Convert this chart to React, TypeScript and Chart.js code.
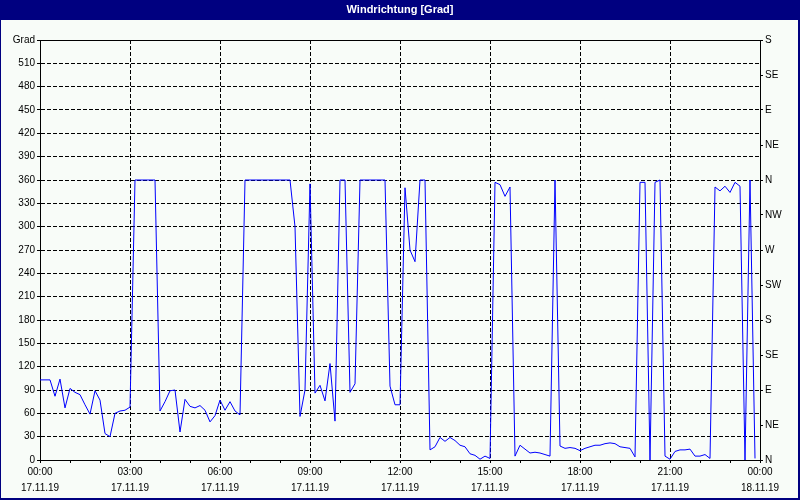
import React, { useEffect, useRef } from 'react';
import { Chart, registerables } from 'chart.js';

Chart.register(...registerables);

// Sample times in minutes after 17.11.19 00:00 (10-minute readings)
const minutes = [
  0, 10, 20, 30, 40, 50, 60, 70, 80, 90,
  100, 110, 120, 130, 140, 150, 160, 170, 180, 190,
  200, 210, 220, 230, 240, 250, 260, 270, 280, 290,
  300, 310, 320, 330, 340, 350, 360, 370, 380, 390,
  400, 410, 420, 430, 440, 450, 460, 470, 480, 490,
  500, 510, 520, 530, 540, 550, 560, 570, 580, 590,
  600, 610, 620, 630, 640, 650, 660, 670, 680, 690,
  700, 710, 720, 730, 740, 750, 760, 770, 780, 790,
  800, 810, 820, 830, 840, 850, 860, 870, 880, 890,
  900, 910, 920, 930, 940, 950, 960, 970, 980, 990,
  1000, 1010, 1020, 1030, 1040, 1050, 1060, 1070, 1080, 1090,
  1100, 1110, 1120, 1130, 1140, 1150, 1160, 1170, 1180, 1190,
  1200, 1210, 1220, 1230, 1240, 1250, 1260, 1270, 1280, 1290,
  1300, 1310, 1320, 1330, 1340, 1350, 1360, 1370, 1380, 1390,
  1400, 1410, 1420, 1430,
];

// Wind direction in degrees
const direction = [
  103, 103, 103, 82, 104, 67, 92, 87, 84, 71,
  59, 89, 77, 34, 30, 60, 63, 64, 68, 360,
  360, 360, 360, 360, 63, 75, 89, 90, 36, 78,
  69, 67, 70, 64, 49, 57, 77, 64, 75, 63,
  58, 360, 360, 360, 360, 360, 360, 360, 360, 360,
  360, 300, 56, 90, 355, 86, 96, 76, 124, 50,
  360, 360, 87, 98, 360, 360, 360, 360, 360, 360,
  95, 71, 71, 350, 270, 255, 360, 360, 13, 17,
  29, 24, 29, 25, 19, 17, 8, 6, 1, 5,
  2, 357, 354, 339, 351, 5, 19, 14, 9, 10,
  9, 7, 5, 360, 18, 15, 16, 15, 12, 15,
  17, 19, 19, 21, 22, 21, 17, 16, 15, 4,
  357, 357, 0, 357, 360, 5, 1, 11, 13, 13,
  14, 5, 5, 7, 2, 351, 346, 352, 344, 357,
  352, 0, 360, 2,
];

const timeLabels = ['00:00', '03:00', '06:00', '09:00', '12:00', '15:00', '18:00', '21:00', '00:00'];
const dateLabels = ['17.11.19', '17.11.19', '17.11.19', '17.11.19', '17.11.19', '17.11.19', '17.11.19', '17.11.19', '18.11.19'];
const compassLabels = ['N', 'NE', 'E', 'SE', 'S', 'SW', 'W', 'NW', 'N', 'NE', 'E', 'SE', 'S'];
const titleText = 'Windrichtung [Grad]';
const unitLabel = 'Grad';

const FONT = '"Liberation Sans", Arial, sans-serif';
const NAVY = '#000080';
const BG = '#f8fcf8';

const framePlugin = {
  id: 'frame',
  beforeDraw(chart: any) {
    const { ctx, width, height } = chart;
    ctx.save();
    ctx.fillStyle = BG;
    ctx.fillRect(0, 0, width, height);
    ctx.fillStyle = NAVY;
    ctx.fillRect(0, 0, width, 20);
    ctx.fillRect(0, 0, 1, height);
    ctx.fillRect(width - 2, 0, 2, height);
    ctx.fillRect(0, height - 2, width, 2);
    ctx.restore();
  },
  afterDatasetsDraw(chart: any) {
    const { ctx, chartArea } = chart;
    ctx.save();
    ctx.strokeStyle = '#000';
    ctx.lineWidth = 1;
    ctx.beginPath();
    ctx.moveTo(Math.round(chartArea.left) + 0.5, Math.round(chartArea.top) + 0.5);
    ctx.lineTo(Math.round(chartArea.right) + 0.5, Math.round(chartArea.top) + 0.5);
    ctx.stroke();
    ctx.restore();
  },
};

export default function App() {
  const canvasRef = useRef<HTMLCanvasElement | null>(null);

  useEffect(() => {
    document.body.style.margin = '0';
    const canvas = canvasRef.current;
    if (!canvas) return;

    const chart = new Chart(canvas, {
      type: 'line',
      data: {
        datasets: [
          {
            label: titleText,
            data: minutes.map((m, i) => ({ x: m, y: direction[i] })),
            borderColor: '#0000ff',
            borderWidth: 1,
            pointRadius: 0,
            tension: 0,
            fill: false,
          },
        ],
      },
      options: {
        responsive: false,
        animation: false,
        devicePixelRatio: 1,
        layout: { padding: 0 },
        plugins: {
          legend: { display: false },
          tooltip: { enabled: false },
          title: {
            display: true,
            text: titleText,
            color: '#ffffff',
            font: { family: FONT, size: 11, weight: 'bold', lineHeight: 1.2 },
            padding: { top: 3.4, bottom: 23.4 },
          },
        },
        scales: {
          x: {
            type: 'linear',
            min: 0,
            max: 1440,
            afterFit: (s: any) => { s.height = 40; },
            ticks: {
              stepSize: 60,
              maxTicksLimit: 100,
              autoSkip: false,
              maxRotation: 0,
              minRotation: 0,
              padding: 1,
              color: '#000',
              font: { family: FONT, size: 10, lineHeight: 1.6 },
              callback: (v: any) => {
                const n = Number(v);
                if (n % 180 !== 0) return '';
                const i = n / 180;
                return [timeLabels[i], dateLabels[i]];
              },
            },
            grid: {
              color: (c: any) => (c.tick && c.tick.value % 180 === 0 ? '#000' : 'rgba(0,0,0,0)'),
              tickColor: '#000',
              tickLength: 3,
              lineWidth: 1,
            },
            border: { display: true, color: '#000', width: 1, dash: [4, 2] },
          },
          y: {
            position: 'left',
            min: 0,
            max: 540,
            afterFit: (s: any) => { s.width = 40; },
            ticks: {
              stepSize: 30,
              maxTicksLimit: 100,
              autoSkip: false,
              padding: 2,
              color: '#000',
              font: { family: FONT, size: 10 },
              callback: (v: any) => (Number(v) === 540 ? unitLabel : String(v)),
            },
            grid: { color: '#000', tickColor: '#000', tickLength: 3, lineWidth: 1 },
            border: { display: true, color: '#000', width: 1, dash: [4, 2] },
          },
          y2: {
            position: 'right',
            min: 0,
            max: 540,
            afterFit: (s: any) => { s.width = 40; },
            ticks: {
              stepSize: 45,
              maxTicksLimit: 100,
              autoSkip: false,
              padding: 2,
              color: '#000',
              font: { family: FONT, size: 10 },
              callback: (v: any) => compassLabels[Math.round(Number(v) / 45)] ?? '',
            },
            grid: { drawOnChartArea: false, color: '#000', tickColor: '#000', tickLength: 3 },
            border: { display: true, color: '#000', width: 1 },
          },
        },
      } as any,
      plugins: [framePlugin],
    });

    return () => chart.destroy();
  }, []);

  return (
    <div style={{ width: 800, height: 500 }}>
      <canvas ref={canvasRef} width={800} height={500} style={{ display: 'block', width: 800, height: 500 }} />
    </div>
  );
}
